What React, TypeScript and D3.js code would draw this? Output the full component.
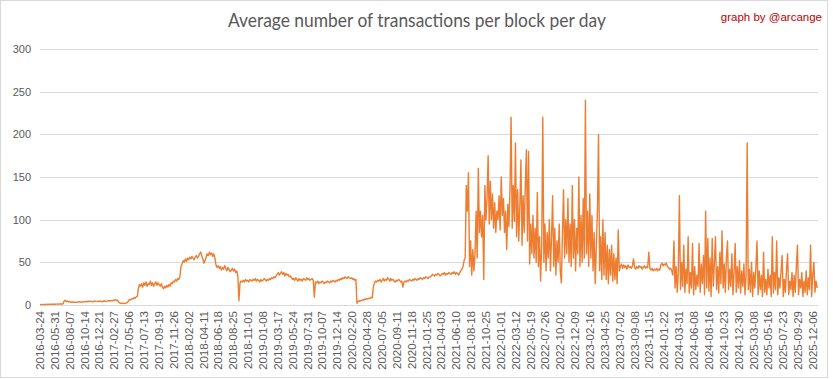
import React from "react";
import * as d3 from "d3";

const TITLE = "Average number of transactions per block per day";
const CREDIT = "graph by @arcange";
const Y_TICKS = [0, 50, 100, 150, 200, 250, 300];
const X_LABELS = [
  "2016-03-24", "2016-05-31", "2016-08-07", "2016-10-14", "2016-12-21", "2017-02-27", "2017-05-06",
  "2017-07-13", "2017-09-19", "2017-11-26", "2018-02-02", "2018-04-11", "2018-06-18", "2018-08-25",
  "2018-11-01", "2019-01-08", "2019-03-17", "2019-05-24", "2019-07-31", "2019-10-07", "2019-12-14",
  "2020-02-20", "2020-04-28", "2020-07-05", "2020-09-11", "2020-11-18", "2021-01-25", "2021-04-03",
  "2021-06-10", "2021-08-18", "2021-10-25", "2022-01-01", "2022-03-12", "2022-05-19", "2022-07-26",
  "2022-10-02", "2022-12-09", "2023-02-16", "2023-04-25", "2023-07-02", "2023-09-08", "2023-11-15",
  "2024-01-22", "2024-03-31", "2024-06-08", "2024-08-16", "2024-10-23", "2024-12-30", "2025-03-08",
  "2025-05-16", "2025-07-23", "2025-09-29", "2025-12-06",
];
// categories (days) between two labels, total categories, and sampling step of the values below
const LABEL_EVERY = 68;
const CATEGORY_COUNT = 3560;
const SAMPLE_EVERY = 5;

const values2016 = [
  0.5, 0.6, 0.5, 0.6, 0.7, 0.6, 0.7, 0.8, 0.7, 0.8, 0.9, 0.8, 0.9, 1, 0.9, 1, 1.1, 1, 1.1, 1.2, 1.1, 1.2,
  4.5, 5.5, 4, 4.8, 3.6, 4.2, 3.5, 3.2, 3.8, 3, 3.4, 3.1, 3.6, 3.3, 3.9, 3.5, 3.2, 3.7, 4, 3.6,
  4.2, 3.8, 4.4, 4, 4.6, 4.1, 3.7, 4.3, 4.8, 4.2, 3.9, 4.5, 4.1, 4.7, 4.3, 3.8, 4.4, 5, 4.5, 4.1,
  4.8, 5.2, 4.6, 5.4, 4.9, 5.6, 5.1, 6.5, 5.3, 5.8,
  3, 2.5, 2, 1.8, 2.2, 1.6, 2, 2.4, 3,
  5, 6.5, 6, 7.5, 7, 8.5, 8, 9.5, 10,
];
const values2017_2018 = [
  19, 24, 22, 25, 21, 26, 23, 27, 22, 25, 24, 28, 23, 26, 22, 25, 27, 23, 26, 24,
  22, 25, 21, 19, 22, 20, 23, 21, 24, 22, 26, 25, 28, 27, 30,
  28, 31, 30, 33, 45,
  48, 52, 50, 54, 51, 55, 53, 56, 54, 57, 55, 53, 56, 58, 55, 57, 60, 62, 58, 54,
  49, 52, 56, 60, 58, 62, 59,
  61, 57, 60, 55, 47, 44, 46,
  43, 45, 41, 44, 42, 46, 43, 40, 44, 42, 39, 41, 43, 40, 42, 38, 40, 34,
  5,
];
const values2018_2021 = [
  26, 28, 27, 29, 27, 30, 28, 29, 27, 30, 29, 28, 30, 29, 31, 28, 30, 29, 27, 30,
  28, 29, 31, 30, 28, 30, 29, 31, 30, 32, 31, 33, 32, 34, 36,
  38, 35, 37, 39, 36, 38, 34, 37, 35, 36, 33, 34,
  32, 30, 31, 29, 32, 30, 28, 31, 29, 30, 28, 31, 30, 29, 32, 30, 31, 29, 30, 31, 29,
  9,
  27, 26, 28, 25, 27, 26, 28, 27, 25, 27, 26, 28, 27, 26, 28, 27, 29, 28, 27, 29, 28, 30, 29,
  31, 30, 32, 31, 33, 32, 31, 33, 32, 31, 32, 30, 31, 29, 30,
  2,
  4, 5, 4.5, 5.5, 6, 5.5, 7, 6.5, 7.5, 7, 8, 7.5, 9, 8.5,
  21, 26, 28, 27, 29, 28, 30, 27, 29, 31, 28, 30, 29, 32, 30, 28, 31, 29, 30, 28,
  27, 29, 28, 30, 29, 27, 28, 21,
  27, 28, 27, 29, 28, 30, 29, 28, 30, 29, 31, 30, 29, 31, 30, 32, 31, 30, 32, 31, 33, 32, 31, 33,
  33, 34, 36, 35, 34, 36, 35, 37, 36, 34, 35, 37, 36, 38, 35, 37, 36, 38, 37, 36,
  38, 37, 39, 36, 38, 37, 35, 38,
  40, 42, 45, 52,
];
const values2021_2023 = [
  55, 140, 110, 155, 45, 75, 35, 65, 40, 60,
  110, 55, 160, 85, 110, 80, 105, 30, 140,
  100, 125, 175, 95, 145, 100, 130, 90, 120, 85,
  110, 100, 128, 88, 150, 105, 125, 85, 110, 65,
  118, 92, 135, 220, 90, 140, 98, 190, 80, 135,
  75, 115, 170, 70, 128, 85, 140, 182, 75, 180,
  48, 95, 60, 105, 55, 90, 50, 132, 45, 80,
  28, 70, 220, 50, 95, 40, 85, 55, 100, 40,
  80, 128, 45, 90, 35, 75, 50, 95, 40, 26,
  85, 135, 55, 100, 60, 125, 50, 95, 45, 140,
  55, 100, 40, 90, 60, 150, 45, 105, 50, 125,
  55, 240, 60, 110, 45, 130, 55, 105, 40, 85,
  25, 70, 110, 200, 40, 80, 30, 100, 35, 85,
  30, 70, 25, 65, 35, 70, 28, 60, 30, 55,
  25, 88, 40,
];
const values2023_2024 = [
  45, 48, 43, 47, 44, 46, 42, 47, 44, 45, 43, 46, 54, 44, 42, 45, 43, 46, 44, 45,
  42, 44, 46, 43, 45, 44, 62, 43, 41, 43, 40, 42, 41, 43, 40, 42, 41, 47, 49, 46,
  48, 47, 49, 45, 44, 42, 43, 40,
];
const values2024_2025 = [
  35, 75, 20, 45, 15, 40, 128, 18, 50, 22,
  70, 15, 42, 25, 80, 14, 38, 20, 72, 12,
  45, 18, 35, 22, 72, 15, 48, 25, 58, 12,
  110, 20, 78, 16, 55, 10, 78, 22, 50, 80,
  18, 45, 14, 62, 25, 87, 20, 48, 15, 55,
  75, 18, 42, 22, 60, 12, 38, 72, 15, 45,
  20, 52, 14, 40, 22, 48, 12, 35, 190, 18,
  42, 15, 50, 10, 38, 20, 45, 75, 12, 40,
  18, 35, 10, 62, 15, 30, 12, 42, 20, 35,
  10, 80, 14, 38, 18, 75, 12, 32, 20, 40,
  58, 10, 30, 15, 42, 60, 12, 28, 18, 38,
  10, 35, 15, 45, 70, 12, 30, 20, 38, 10,
  28, 15, 40, 12, 32, 18, 70, 10, 35, 50,
  15, 28, 20,
];

const VALUES = [
  ...values2016,
  ...values2017_2018,
  ...values2018_2021,
  ...values2021_2023,
  ...values2023_2024,
  ...values2024_2025,
];

export default function App() {
  const W = 833;
  const H = 379;
  const left = 40, right = 818, top = 49, bottom = 305;
  const x = d3.scaleLinear().domain([0, CATEGORY_COUNT - 1]).range([left, right]);
  const y = d3.scaleLinear().domain([0, 300]).range([bottom, top]);
  const line = d3
    .line<number>()
    .x((_, i) => x(i * SAMPLE_EVERY))
    .y((d) => y(d));
  const font = "'Liberation Sans', Arial, sans-serif";

  return (
    <svg
      width={W}
      height={H}
      style={{ position: "absolute", left: 0, top: 0, background: "#fff" }}
    >
      <rect x={0} y={0} width={W} height={H} fill="#fff" />
      <rect x={0.5} y={0.5} width={827} height={377} fill="none" stroke="#d9d9d9" />
      <text
        x={417}
        y={27}
        textAnchor="middle"
        fontFamily="Lato, 'Open Sans', sans-serif"
        fontSize={19}
        fill="#595959"
        textLength={378}
        lengthAdjust="spacingAndGlyphs"
      >
        {TITLE}
      </text>
      <text x={822} y={21} textAnchor="end" fontFamily={font} fontSize={11.5} fill="#c00000">
        {CREDIT}
      </text>
      {Y_TICKS.map((t) => (
        <g key={t}>
          <line x1={left} x2={right} y1={Math.round(y(t)) + 0.5} y2={Math.round(y(t)) + 0.5} stroke="#d9d9d9" strokeWidth={1} />
          <text x={31} y={y(t)} dy="0.35em" textAnchor="end" fontFamily={font} fontSize={11} fill="#595959">
            {t}
          </text>
        </g>
      ))}
      <path d={line(VALUES) || ""} fill="none" stroke="#ed7d31" strokeWidth={1.4} strokeLinejoin="round" />
      {X_LABELS.map((lab, i) => {
        const px = x(i * LABEL_EVERY);
        return (
          <text
            key={lab}
            transform={`translate(${px},311) rotate(-90)`}
            dy="0.35em"
            textAnchor="end"
            fontFamily={font}
            fontSize={11.5}
            fill="#595959"
          >
            {lab}
          </text>
        );
      })}
    </svg>
  );
}
